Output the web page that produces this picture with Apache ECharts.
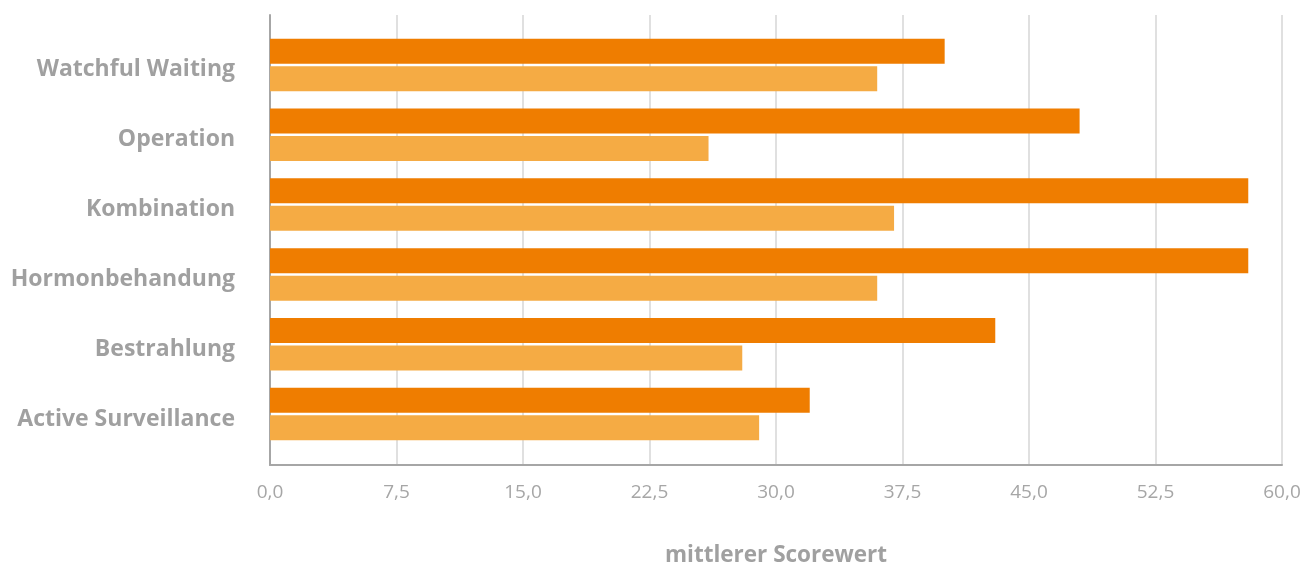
<!DOCTYPE html>
<html>
<head>
<meta charset="utf-8">
<script src="https://cdn.jsdelivr.net/npm/echarts@6/dist/echarts.min.js"></script>
<style>
html,body{margin:0;padding:0;background:#fff;}
#chart{width:1312px;height:565px;}
</style>
</head>
<body>
<div id="chart"></div>
<script>
// categories listed bottom-to-top
var categories = ['Active Surveillance', 'Bestrahlung', 'Hormonbehandung', 'Kombination', 'Operation', 'Watchful Waiting'];
var darkValues = [32, 43, 58, 58, 48, 40];
var lightValues = [29, 28, 36, 37, 26, 36];
var xTicks = [0, 7.5, 15, 22.5, 30, 37.5, 45, 52.5, 60];
var axisTitle = 'mittlerer Scorewert';

var chart = echarts.init(document.getElementById('chart'), null, {renderer: 'canvas'});
var labelColor = '#a0a0a0';
var option = {
  animation: false,
  grid: [
    {left: 270, top: 15, width: 1012, height: 450, outerBoundsMode: 'none', containLabel: false},
    {left: 270, top: 30, width: 1012, height: 419, outerBoundsMode: 'none', containLabel: false}
  ],
  xAxis: [
    {
      type: 'value', gridIndex: 0, min: xTicks[0], max: xTicks[xTicks.length - 1], interval: 7.5,
      name: axisTitle, nameLocation: 'middle', nameGap: 79,
      nameTextStyle: {color: labelColor, fontSize: 22.5, fontWeight: 'bold', fontFamily: 'Open Sans'},
      axisLine: {show: true, lineStyle: {color: '#a6a6a6', width: 2}},
      axisTick: {show: false},
      axisLabel: {color: '#a6a6a6', fontSize: 19, fontFamily: 'Open Sans', margin: 18,
        formatter: function (v) { return v.toFixed(1).replace('.', ','); }},
      splitLine: {show: true, lineStyle: {color: '#e0e0e0', width: 2}}
    },
    {
      type: 'value', gridIndex: 1, min: 0, max: 60, show: false
    }
  ],
  yAxis: [
    {
      type: 'value', gridIndex: 0, min: 0, max: 1,
      axisLine: {show: true, lineStyle: {color: '#a6a6a6', width: 2}},
      axisTick: {show: false}, axisLabel: {show: false}, splitLine: {show: false}
    },
    {
      type: 'category', gridIndex: 1, data: categories,
      axisLine: {show: false}, axisTick: {show: false},
      axisLabel: {
        margin: 35,
        formatter: function (v) { return '{c|' + v + '}'; },
        rich: {
          c: {color: labelColor, fontSize: 23, fontWeight: 'bold', fontFamily: 'Open Sans', padding: [10, 0, 0, 0]}
        }
      }
    }
  ],
  series: [
    {
      name: 'dark', type: 'bar', xAxisIndex: 1, yAxisIndex: 1, data: darkValues,
      barWidth: 25, barGap: '10%', itemStyle: {color: '#EF7D00'}
    },
    {
      name: 'light', type: 'bar', xAxisIndex: 1, yAxisIndex: 1, data: lightValues,
      barWidth: 25, barGap: '10%', itemStyle: {color: '#F5AB44'}
    }
  ]
};
chart.setOption(option);
</script>
</body>
</html>
